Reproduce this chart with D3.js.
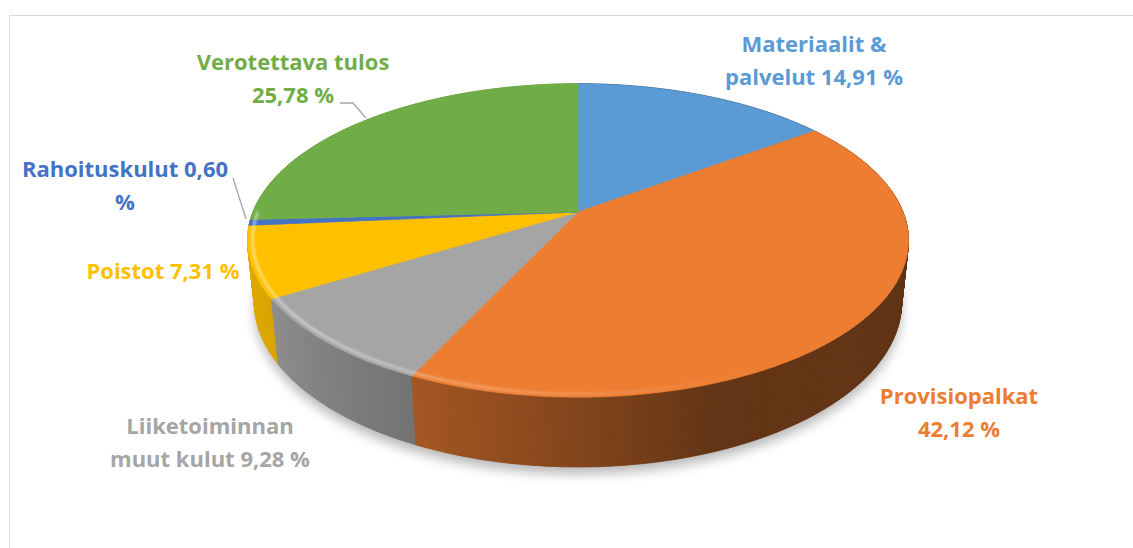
<!DOCTYPE html>
<html>
<head>
<meta charset="utf-8">
<script src="https://cdn.jsdelivr.net/npm/d3@7"></script>
<style>
  html, body { margin: 0; padding: 0; background: #fff; }
  svg { display: block; }
</style>
</head>
<body>
<svg id="chart" width="1133" height="548"></svg>
<script>
// ---- Data ----
const categories = ["Materiaalit & palvelut", "Provisiopalkat", "Liiketoiminnan muut kulut", "Poistot", "Rahoituskulut", "Verotettava tulos"];
const values = [14.91, 42.12, 9.28, 7.31, 0.60, 25.78];
const colors = ["#5B9BD5", "#ED7D31", "#A5A5A5", "#FFC000", "#4472C4", "#70AD47"];
// words before the line break in each label (0 = single line)
const labelBreaks = [2, 1, 1, 0, 2, 2];

// ---- Layout ----
const W = 1133, H = 548;
const cam = { cx: 578, cy: 212, S: 325, phi: 27.8 * Math.PI / 180, D: 4.87, T: 0.217 };
const labelLayout = [
  { x: 814, y: 52 },
  { x: 959, y: 404 },
  { x: 210, y: 434 },
  { x: 163, y: 279 },
  { x: 125, y: 177 },
  { x: 293, y: 70 }
];
const lineGap = 33;
const leaders = [
  { i: 5, pts: [[340, 103], [353, 103], [366, 118]] },
  { i: 4, pts: [[233, 178], [246, 219]] }
];

const svg = d3.select("#chart");
const defs = svg.append("defs");

// chart frame
svg.append("rect").attr("x", 9.5).attr("y", 15.5).attr("width", 1200).attr("height", 600)
  .attr("fill", "#fff").attr("stroke", "#d9d9d9").attr("stroke-width", 1);

// perspective projection of a point on the pie cylinder
function project(theta, yw, r = 1) {
  const x3 = r * Math.sin(theta), z3 = -r * Math.cos(theta), y3 = yw;
  const c = Math.cos(cam.phi), s = Math.sin(cam.phi);
  const yp = y3 * c - z3 * s;
  const zp = z3 * c + y3 * s;
  const k = cam.D / (cam.D - zp);
  return [cam.cx + cam.S * x3 * k, cam.cy - cam.S * yp * k];
}
function depth(theta) { return -Math.cos(theta) * Math.cos(cam.phi); }

const pie = d3.pie().sort(null).value(d => d).startAngle(0).endAngle(2 * Math.PI);
const arcs = pie(values);
const line = d3.line();
const step = Math.PI / 360;

function sampleAngles(a0, a1) {
  const n = Math.max(1, Math.ceil((a1 - a0) / step));
  return d3.range(n + 1).map(i => a0 + (a1 - a0) * i / n);
}

// shadow
const blur = defs.append("filter").attr("id", "shadowBlur").attr("x", "-20%").attr("y", "-20%").attr("width", "140%").attr("height", "140%");
blur.append("feGaussianBlur").attr("stdDeviation", 6);
const ringAll = sampleAngles(0, 2 * Math.PI).map(a => project(a, -cam.T));
svg.append("path").attr("d", line(ringAll) + "Z")
  .attr("transform", "translate(0,7)")
  .attr("fill", "#000").attr("opacity", 0.28).attr("filter", "url(#shadowBlur)");

// side shading as a function of angle (degrees)
const shade = d3.scaleLinear()
  .domain([0, 90, 160, 185, 210, 240, 270, 360])
  .range([0.4, 0.4, 0.42, 0.58, 0.72, 0.86, 0.9, 0.9])
  .clamp(true);

// side wall quads
const quads = [];
arcs.forEach((a, i) => {
  const angs = sampleAngles(a.startAngle, a.endAngle);
  for (let j = 0; j < angs.length - 1; j++) {
    const t0 = angs[j], t1 = angs[j + 1], tm = (t0 + t1) / 2;
    const base = d3.rgb(colors[i]);
    const f = shade(tm * 180 / Math.PI);
    const col = d3.rgb(base.r * f, base.g * f, base.b * f);
    quads.push({
      pts: [project(t0, 0), project(t1, 0), project(t1, -cam.T), project(t0, -cam.T)],
      z: depth(tm), col: col.formatHex()
    });
  }
});
quads.sort((p, q) => p.z - q.z);
svg.append("g").selectAll("path").data(quads).join("path")
  .attr("d", d => line(d.pts) + "Z")
  .attr("fill", d => d.col).attr("stroke", d => d.col).attr("stroke-width", 0.8);

// top faces
const center = [cam.cx, cam.cy];
svg.append("g").selectAll("path").data(arcs).join("path")
  .attr("d", a => line([center].concat(sampleAngles(a.startAngle, a.endAngle).map(t => project(t, 0)))) + "Z")
  .attr("fill", (a, i) => colors[i]).attr("stroke", (a, i) => colors[i]).attr("stroke-width", 0.6)
  .attr("stroke-linejoin", "round");

// rim highlight (bevel)
const hg = defs.append("linearGradient").attr("id", "rimGrad").attr("gradientUnits", "userSpaceOnUse")
  .attr("x1", 245).attr("y1", 0).attr("x2", 760).attr("y2", 0);
hg.append("stop").attr("offset", 0).attr("stop-color", "#fff").attr("stop-opacity", 0.45);
hg.append("stop").attr("offset", 1).attr("stop-color", "#fff").attr("stop-opacity", 0);
const hb = defs.append("filter").attr("id", "rimBlur");
hb.append("feGaussianBlur").attr("stdDeviation", 1.2);
const rimPts = sampleAngles(Math.PI * 0.6, Math.PI * 1.5).map(t => project(t, 0, 0.985));
svg.append("path").attr("d", line(rimPts)).attr("fill", "none")
  .attr("stroke", "url(#rimGrad)").attr("stroke-width", 3).attr("filter", "url(#rimBlur)");

// leader lines
svg.append("g").selectAll("path").data(leaders).join("path")
  .attr("d", d => line(d.pts)).attr("fill", "none").attr("stroke", "#a6a6a6").attr("stroke-width", 1.3);

// labels
const fmt = v => d3.format(".2f")(v).replace(".", ",");
const labels = categories.map((c, i) => {
  const words = (c + " " + fmt(values[i]) + " %").split(" ");
  const b = labelBreaks[i];
  return b ? [words.slice(0, b).join(" "), words.slice(b).join(" ")] : [words.join(" ")];
});
const lg = svg.append("g")
  .attr("font-family", "'Open Sans', sans-serif")
  .attr("font-weight", 700).attr("font-size", 22).attr("text-anchor", "middle");
labels.forEach((lines, i) => {
  const t = lg.append("text").attr("fill", colors[i]);
  lines.forEach((l, j) => {
    t.append("tspan").attr("x", labelLayout[i].x).attr("y", labelLayout[i].y + j * lineGap).text(l);
  });
});
</script>
</body>
</html>
